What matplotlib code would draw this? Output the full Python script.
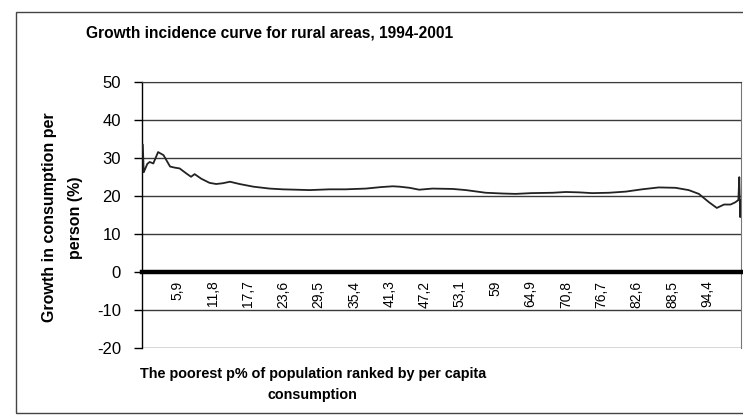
"""Growth incidence curve for rural areas, 1994-2001 (scanned Excel chart)."""

import matplotlib
matplotlib.use("Agg")
import matplotlib.pyplot as plt
from matplotlib.patches import Rectangle

# poorest p% of population (x) and growth in consumption per person (%)
pct = [0.15, 0.3, 0.5, 0.9, 1.3, 1.9, 2.7, 3.6, 4.7, 5.5, 6.3, 7.4, 8.2, 8.8,
       9.9, 11.3, 12.4, 13.5, 14.7, 16.3, 18.6, 21.3, 23.5, 25.8, 28.0, 31.3,
       34.0, 37.4, 40.0, 41.9, 43.0, 44.7, 46.3, 48.5, 51.9, 54.1, 57.4, 60.2,
       62.4, 65.0, 68.6, 70.8, 73.0, 75.2, 78.0, 80.8, 83.5, 86.3, 89.1, 91.3,
       93.0, 94.7, 96.0, 97.2, 98.3, 99.1, 99.6, 99.75, 99.9, 100.0]
growth = [33.5, 26.3, 27.0, 28.5, 29.0, 28.6, 31.6, 30.8, 27.8, 27.5, 27.3,
          26.0, 25.1, 25.8, 24.6, 23.5, 23.2, 23.4, 23.8, 23.2, 22.5, 22.0,
          21.8, 21.7, 21.6, 21.8, 21.8, 22.0, 22.4, 22.6, 22.5, 22.2, 21.7,
          22.0, 21.9, 21.6, 20.9, 20.7, 20.6, 20.8, 20.9, 21.1, 21.0, 20.8,
          20.9, 21.2, 21.8, 22.3, 22.2, 21.6, 20.6, 18.4, 16.9, 17.8, 17.8,
          18.4, 19.0, 25.0, 14.5, 19.0]

xtick_vals = [5.9, 11.8, 17.7, 23.6, 29.5, 35.4, 41.3, 47.2, 53.1, 59.0,
              64.9, 70.8, 76.7, 82.6, 88.5, 94.4]
xtick_labels = ["5,9", "11,8", "17,7", "23,6", "29,5", "35,4", "41,3", "47,2",
                "53,1", "59", "64,9", "70,8", "76,7", "82,6", "88,5", "94,4"]
ytick_vals = [-20, -10, 0, 10, 20, 30, 40, 50]

plt.rcParams["font.family"] = ["Liberation Sans", "DejaVu Sans"]
plt.rcParams["axes.unicode_minus"] = False

fig = plt.figure(figsize=(7.43, 4.17), dpi=100)
fig.patches.append(Rectangle((0.021, 0.01), 1.2, 0.961, transform=fig.transFigure,
                             fill=False, edgecolor="#444444", linewidth=1.0))

ax = fig.add_axes([0.191, 0.165, 0.806, 0.638])
ax.set_xlim(0, 100)
ax.set_ylim(-20, 50)

ax.set_yticks(ytick_vals)
ax.yaxis.grid(True, color="#3a3a3a", linewidth=1.0)
ax.set_axisbelow(True)
ax.tick_params(axis="y", length=6, width=1, labelsize=12, pad=9, colors="black")

ax.plot(pct, growth, color="#222222", linewidth=1.3, zorder=3)

ax.spines["bottom"].set_position(("data", 0))
ax.spines["bottom"].set_linewidth(3.2)
ax.spines["bottom"].set_color("black")
ax.spines["bottom"].set_zorder(4)
ax.spines["left"].set_linewidth(1.0)
ax.spines["top"].set_color("#3a3a3a")
ax.spines["right"].set_color("#777777")

ax.set_xticks(xtick_vals)
ax.set_xticklabels(xtick_labels, rotation=90, fontsize=10)
ax.tick_params(axis="x", length=0, pad=6)

fig.text(0.363, 0.921, "Growth incidence curve for rural areas, 1994-2001",
         ha="center", va="center", fontsize=11.2, fontweight="bold")
fig.text(0.084, 0.478, "Growth in consumption per\nperson (%)", rotation=90,
         ha="center", va="center", fontsize=11.5, fontweight="bold",
         multialignment="center", linespacing=1.9)
fig.text(0.421, 0.078, "The poorest p% of population ranked by per capita\nconsumption",
         ha="center", va="center", fontsize=10.4, fontweight="bold",
         multialignment="center", linespacing=1.6)

fig.savefig("out.png", dpi=100)
